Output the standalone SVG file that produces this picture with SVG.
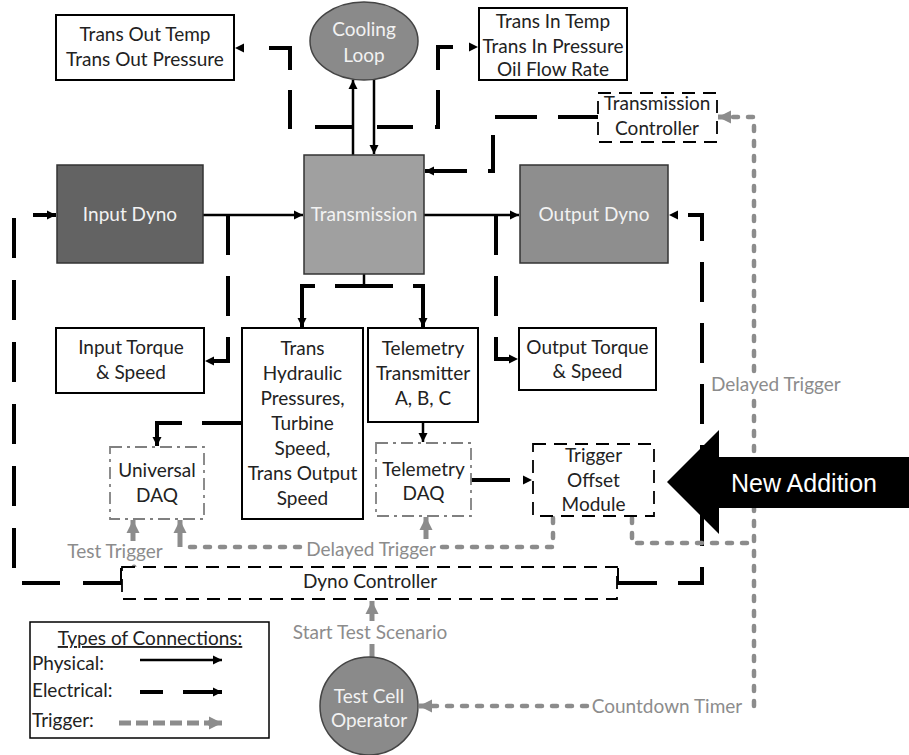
<svg xmlns="http://www.w3.org/2000/svg" width="909" height="755" viewBox="0 0 909 755">
<defs>
<marker id="ab" markerUnits="userSpaceOnUse" markerWidth="10" markerHeight="10" refX="9" refY="5" orient="auto"><path d="M0,0.5 L9,5 L0,9.5 z" fill="#000"/></marker>
<marker id="ag" markerUnits="userSpaceOnUse" markerWidth="14" markerHeight="14" refX="13" refY="7" orient="auto"><path d="M0,0.5 L13,7 L0,13.5 z" fill="#8c8c8c"/></marker>
</defs>
<style>
.t{font-family:Lato,"Open Sans",sans-serif;font-size:19px;fill:#222;text-anchor:middle}
.l{text-anchor:start}
.w{fill:#f2f2f2}
.g{fill:#8c8c8c}
.box{fill:#fff;stroke:#000;stroke-width:2}
.dbox{fill:#fff;stroke:#000;stroke-width:1.8;stroke-dasharray:13 8}
.daq{fill:#fff;stroke:#808080;stroke-width:1.8;stroke-dasharray:12 5 3 5}
.ph{fill:none;stroke:#000;stroke-width:2.5}
.el{fill:none;stroke:#000;stroke-width:4;stroke-linejoin:miter}
.tr{fill:none;stroke:#8c8c8c;stroke-width:4.5;stroke-linecap:round;stroke-dasharray:5 10}
.ts{fill:none;stroke:#8c8c8c;stroke-width:5}
</style>
<rect width="909" height="755" fill="#fff"/>

<g id="connectors">
  <path class="ph" d="M203,215 H303" marker-end="url(#ab)"/>
  <path class="ph" d="M424,215 H519" marker-end="url(#ab)"/>
  <path class="ph" d="M353,155 V80" marker-end="url(#ab)"/>
  <path class="ph" d="M374,80 V154" marker-end="url(#ab)"/>
  <path class="ph" d="M364,274 V286"/>
  <path class="ph" d="M423,422 V442" marker-end="url(#ab)"/>
  <path class="el" d="M122,568 V583 H14 V215 H56" stroke-dasharray="54 23 38 23 40 22 40 22 40 22 40 22 40 22 40 22 40 22 40 200" marker-end="url(#ab)"/>
  <path class="el" d="M617,568 V583 H702 V215 H669" stroke-dasharray="55 21 40 21 40 21 40 21 40 21 40 21 40 21 40 21 40 200" marker-end="url(#ab)"/>
  <path class="el" d="M228,215 V361 H205" stroke-dasharray="40 21" marker-end="url(#ab)"/>
  <path class="el" d="M496,215 V359 H518" stroke-dasharray="40 21" marker-end="url(#ab)"/>
  <path class="el" d="M364,286 H302 V327" stroke-dasharray="29 20 200" marker-end="url(#ab)"/>
  <path class="el" d="M364,286 H423 V327" stroke-dasharray="29 20 200" marker-end="url(#ab)"/>
  <path class="el" d="M364,127 H290 V48 H235" stroke-dasharray="0 12 37 23 39 20 43 200" marker-end="url(#ab)"/>
  <path class="el" d="M364,127 H438 V47 H478" stroke-dasharray="0 13 36 22 40 20 38 200" marker-end="url(#ab)"/>
  <path class="el" d="M598,117 H493 V171 H425" stroke-dasharray="40 21 42 20 41 21 200" marker-end="url(#ab)"/>
  <path class="el" d="M242,423 H157 V446" stroke-dasharray="40 20 200" marker-end="url(#ab)"/>
  <path class="el" d="M471,480 H532" stroke-dasharray="39 200" marker-end="url(#ab)"/>
  <path class="tr" d="M754,371 V117 H731"/>
  <path class="ts" d="M726,117 H718" marker-end="url(#ag)"/>
  <path class="tr" d="M632,518 V543 H754"/>
  <path class="tr" d="M754,401 V706 H748"/>
  <path class="tr" d="M587,706 H432"/>
  <path class="ts" d="M428,706 H419" marker-end="url(#ag)"/>
  <path class="tr" d="M553,518 V547 H442"/>
  <path class="tr" d="M300,547 H182"/>
  <path class="ts" d="M180,547 V520" marker-end="url(#ag)"/>
  <circle cx="134" cy="567" r="2.5" fill="#8c8c8c"/>
  <path class="ts" d="M133,541 V520" marker-end="url(#ag)"/>
  <path class="ts" d="M426,539 V517" marker-end="url(#ag)"/>
  <path class="ts" d="M372,621 V601" marker-end="url(#ag)"/>
  <path class="ts" d="M372,644 V658"/>
  <text class="t g" x="115" y="558">Test Trigger</text>
  <text class="t g" x="371" y="556">Delayed Trigger</text>
  <text class="t g l" x="711" y="391">Delayed Trigger</text>
  <text class="t g" x="370" y="639">Start Test Scenario</text>
  <text class="t g" x="667" y="713">Countdown Timer</text>
</g>

<g id="trans-out">
  <rect class="box" x="56" y="15" width="178" height="65"/>
  <text class="t" x="145" y="41">Trans Out Temp</text>
  <text class="t" x="145" y="66">Trans Out Pressure</text>
</g>
<g id="cooling-loop">
  <ellipse cx="364" cy="41" rx="54" ry="39" fill="#8a8a8a" stroke="#444" stroke-width="1.5"/>
  <text class="t w" x="364" y="36">Cooling</text>
  <text class="t w" x="364" y="62">Loop</text>
</g>
<g id="trans-in">
  <rect class="box" x="479" y="8" width="148" height="72"/>
  <text class="t" x="553" y="28">Trans In Temp</text>
  <text class="t" x="553" y="53">Trans In Pressure</text>
  <text class="t" x="553" y="76">Oil Flow Rate</text>
</g>
<g id="transmission-controller">
  <rect class="dbox" x="598" y="93" width="119" height="49"/>
  <text class="t" x="657" y="110">Transmission</text>
  <text class="t" x="657" y="135">Controller</text>
</g>
<g id="input-dyno">
  <rect x="57" y="165" width="146" height="98" fill="#636363" stroke="#333" stroke-width="1.5"/>
  <text class="t w" x="130" y="221">Input Dyno</text>
</g>
<g id="transmission">
  <rect x="304" y="155" width="120" height="119" fill="#a0a0a0" stroke="#333" stroke-width="1.5"/>
  <text class="t w" x="364" y="221">Transmission</text>
</g>
<g id="output-dyno">
  <rect x="520" y="165" width="148" height="98" fill="#8e8e8e" stroke="#333" stroke-width="1.5"/>
  <text class="t w" x="594" y="221">Output Dyno</text>
</g>
<g id="input-torque">
  <rect class="box" x="56" y="328" width="148" height="65"/>
  <text class="t" x="131" y="354">Input Torque</text>
  <text class="t" x="131" y="379">&amp; Speed</text>
</g>
<g id="trans-hydraulic">
  <rect class="box" x="242" y="328" width="121" height="191"/>
  <text class="t" x="302.5" y="355">Trans</text>
  <text class="t" x="302.5" y="380">Hydraulic</text>
  <text class="t" x="302.5" y="405">Pressures,</text>
  <text class="t" x="302.5" y="430">Turbine</text>
  <text class="t" x="302.5" y="455">Speed,</text>
  <text class="t" x="302.5" y="480">Trans Output</text>
  <text class="t" x="302.5" y="505">Speed</text>
</g>
<g id="telemetry-transmitter">
  <rect class="box" x="368" y="328" width="110" height="94"/>
  <text class="t" x="423" y="355">Telemetry</text>
  <text class="t" x="423" y="380">Transmitter</text>
  <text class="t" x="423" y="405">A, B, C</text>
</g>
<g id="output-torque">
  <rect class="box" x="519" y="328" width="137" height="62"/>
  <text class="t" x="587.5" y="354">Output Torque</text>
  <text class="t" x="587.5" y="378">&amp; Speed</text>
</g>
<g id="universal-daq">
  <rect class="daq" x="110" y="447" width="94" height="72"/>
  <text class="t" x="157" y="477">Universal</text>
  <text class="t" x="157" y="502">DAQ</text>
</g>
<g id="telemetry-daq">
  <rect class="daq" x="376" y="443" width="95" height="73"/>
  <text class="t" x="423.5" y="476">Telemetry</text>
  <text class="t" x="423.5" y="500">DAQ</text>
</g>
<g id="trigger-offset-module">
  <rect class="dbox" x="533" y="444" width="121" height="72"/>
  <text class="t" x="593.5" y="462">Trigger</text>
  <text class="t" x="593.5" y="487">Offset</text>
  <text class="t" x="593.5" y="511">Module</text>
</g>
<g id="dyno-controller">
  <rect class="dbox" x="122" y="567" width="495" height="32"/>
  <text class="t" x="370" y="588">Dyno Controller</text>
</g>
<g id="test-cell-operator">
  <circle cx="369" cy="706" r="49" fill="#8a8a8a" stroke="#444" stroke-width="1.5"/>
  <text class="t w" x="369" y="703">Test Cell</text>
  <text class="t w" x="369" y="727">Operator</text>
</g>
<g id="legend">
  <rect x="30" y="622" width="239" height="116" fill="#fff" stroke="#000" stroke-width="1.5"/>
  <text class="t" x="150" y="645" text-decoration="underline">Types of Connections:</text>
  <text class="t l" x="32" y="670">Physical:</text>
  <text class="t l" x="32" y="697">Electrical:</text>
  <text class="t l" x="32" y="727">Trigger:</text>
  <path class="ph" d="M140,660 H222" marker-end="url(#ab)"/>
  <path class="el" d="M140,692 H222" stroke-dasharray="23 20 200" marker-end="url(#ab)"/>
  <path d="M119,723 H209" fill="none" stroke="#8c8c8c" stroke-width="5" stroke-dasharray="12 5"/>
  <path d="M208,723 H222" class="ts" marker-end="url(#ag)"/>
</g>
<g id="new-addition">
  <polygon points="667,482 719,430 719,457 909,457 909,508 719,508 719,534" fill="#000"/>
  <text x="804" y="492" font-family="'Liberation Sans',Arial,sans-serif" font-size="25" fill="#fff" text-anchor="middle">New Addition</text>
</g>
</svg>
